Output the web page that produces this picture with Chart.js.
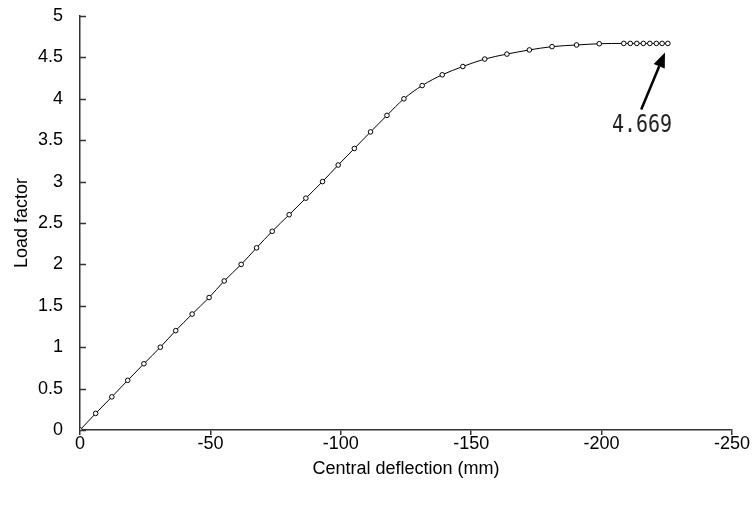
<!DOCTYPE html>
<html>
<head>
<meta charset="utf-8">
<script src="https://cdn.jsdelivr.net/npm/chart.js@4"></script>
<style>
  body { margin: 0; background: #fff; }
  #wrap { width: 752px; height: 509px; }
</style>
</head>
<body>
<div id="wrap"><canvas id="myChart"></canvas></div>
<script>
// values
const deflection = [0, -6.0, -12.2, -18.3, -24.5, -30.8, -36.7, -43.0, -49.5, -55.3,
  -61.8, -67.7, -73.7, -80.2, -86.6, -93.0, -99.0, -105.2, -111.4, -117.7,
  -124.2, -131.2, -138.9, -146.8, -155.2, -163.7, -172.3, -181.0, -190.4, -199.1,
  -208.5, -211.0, -213.5, -216.0, -218.5, -221.0, -223.2, -225.4];
const loadFactor = [0, 0.2, 0.4, 0.6, 0.8, 1.0, 1.2, 1.4, 1.6, 1.8,
  2.0, 2.2, 2.4, 2.6, 2.8, 3.0, 3.2, 3.4, 3.6, 3.8,
  4.0, 4.16, 4.29, 4.39, 4.48, 4.54, 4.59, 4.63, 4.65, 4.665,
  4.669, 4.669, 4.669, 4.669, 4.669, 4.669, 4.669, 4.669];
const xTicks = [0, -50, -100, -150, -200, -250];
const yTicks = [0, 0.5, 1, 1.5, 2, 2.5, 3, 3.5, 4, 4.5, 5];

// arrow note, in data units
const peakNote = { label: '4.669', tail: [-215.2, 3.87], tip: [-224.3, 4.56], text: [-215.5, 3.68] };

const axisColor = '#333';
const fontName = '"Liberation Sans", Arial, sans-serif';

// y ticks in the picture point into the plot
const innerTicks = {
  id: 'innerTicks',
  afterDraw(chart) {
    const ctx = chart.ctx;
    const y = chart.scales.y;
    ctx.save();
    ctx.strokeStyle = axisColor;
    ctx.lineWidth = 1.5;
    yTicks.forEach(v => {
      const py = Math.round(y.getPixelForValue(v)) + 0.5;
      ctx.beginPath();
      ctx.moveTo(y.right, py);
      ctx.lineTo(y.right + 6, py);
      ctx.stroke();
    });
    ctx.restore();
  }
};

const arrowNote = {
  id: 'arrowNote',
  afterDatasetsDraw(chart) {
    const ctx = chart.ctx;
    const x = chart.scales.x;
    const y = chart.scales.y;
    const x0 = x.getPixelForValue(peakNote.tail[0]);
    const y0 = y.getPixelForValue(peakNote.tail[1]);
    const x1 = x.getPixelForValue(peakNote.tip[0]);
    const y1 = y.getPixelForValue(peakNote.tip[1]);
    const ang = Math.atan2(y1 - y0, x1 - x0);
    const headLen = 15, headW = 6;
    const bx = x1 - headLen * Math.cos(ang);
    const by = y1 - headLen * Math.sin(ang);

    ctx.save();
    ctx.strokeStyle = '#000';
    ctx.fillStyle = '#000';
    ctx.lineWidth = 2.5;
    ctx.beginPath();
    ctx.moveTo(x0, y0);
    ctx.lineTo(bx, by);
    ctx.stroke();
    ctx.beginPath();
    ctx.moveTo(x1, y1);
    ctx.lineTo(bx + headW * Math.sin(ang), by - headW * Math.cos(ang));
    ctx.lineTo(bx - headW * Math.sin(ang), by + headW * Math.cos(ang));
    ctx.closePath();
    ctx.fill();

    // tall narrow label
    const tx = x.getPixelForValue(peakNote.text[0]);
    const ty = y.getPixelForValue(peakNote.text[1]);
    ctx.translate(tx, ty);
    ctx.scale(1, 1.25);
    ctx.font = '20px "DejaVu Sans Mono", monospace';
    ctx.fillStyle = '#222';
    ctx.textAlign = 'center';
    ctx.textBaseline = 'middle';
    ctx.fillText(peakNote.label, 0, 0);
    ctx.restore();
  }
};

const ctx1 = document.getElementById('myChart').getContext('2d');

const chart1 = new Chart(ctx1, {
  type: 'line',
  data: {
    datasets: [{
      label: 'Load factor',
      data: deflection.map((d, i) => ({ x: d, y: loadFactor[i] })),
      borderColor: '#000',
      borderWidth: 1,
      cubicInterpolationMode: 'monotone',
      pointRadius: 2.3,
      pointBorderWidth: 1,
      pointBorderColor: '#000',
      pointBackgroundColor: '#fff',
      fill: false
    }]
  },
  options: {
    responsive: true,
    maintainAspectRatio: false,
    animation: false,
    layout: { padding: { top: 16, right: 20, left: 0, bottom: 29 } },
    plugins: {
      legend: { display: false },
      tooltip: { enabled: false }
    },
    scales: {
      x: {
        type: 'linear',
        reverse: true,
        min: -250,
        max: 0,
        afterBuildTicks: s => { s.ticks = xTicks.map(v => ({ value: v })); },
        afterFit: s => { s.height = 50; },
        border: { color: axisColor, width: 1.5 },
        grid: { display: true, drawOnChartArea: false, drawTicks: true, tickLength: 5, color: axisColor, lineWidth: 1.5 },
        ticks: { color: '#000', padding: -2, font: { family: fontName, size: 18 }, maxRotation: 0 },
        title: { display: true, text: 'Central deflection (mm)', color: '#000', font: { family: fontName, size: 18 }, padding: 0 }
      },
      y: {
        min: 0,
        max: 5,
        afterBuildTicks: s => { s.ticks = yTicks.map(v => ({ value: v })); },
        afterFit: s => { s.width = 80; s.paddingTop = 0; s.paddingBottom = 0; },
        border: { color: axisColor, width: 1.5 },
        grid: { display: false, drawTicks: false },
        ticks: { color: '#000', padding: 17, font: { family: fontName, size: 18 }, callback: v => String(v) },
        title: { display: true, text: 'Load factor', color: '#000', font: { family: fontName, size: 18 }, padding: { top: 11, bottom: 0 } }
      }
    }
  },
  plugins: [innerTicks, arrowNote]
});
</script>
</body>
</html>
